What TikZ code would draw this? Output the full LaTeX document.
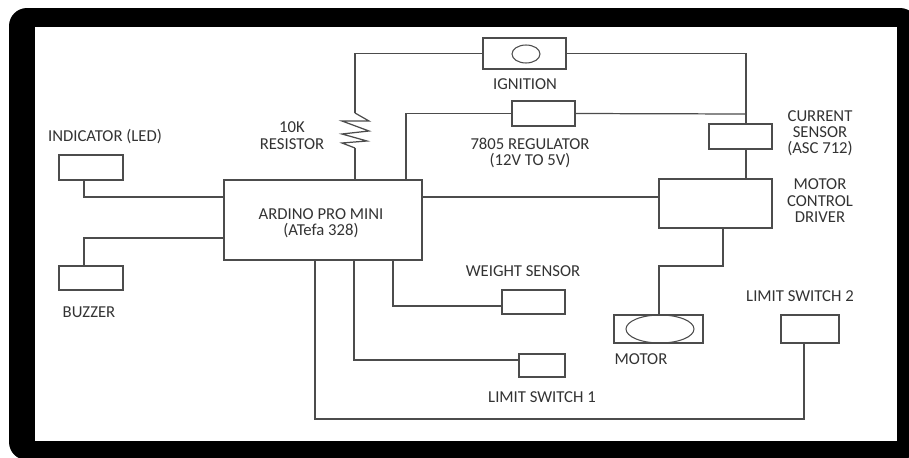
\documentclass[tikz,border=0pt]{standalone}
\usepackage{tikz}
\usepackage{xcolor}
\usepackage{fontspec}
\setmainfont{Carlito}
\usetikzlibrary{shapes.geometric}
\definecolor{wirecol}{gray}{0.3}
\definecolor{labelcol}{gray}{0.2}
\tikzset{
  block/.style={draw=wirecol, line width=0.7pt, minimum width=#1, inner sep=0pt},
  lbl/.style={text=labelcol, font=\fontsize{9.5pt}{11pt}\selectfont, inner sep=0pt},
  wire/.style={draw=wirecol, line width=0.7pt}
}
\begin{document}
\begin{tikzpicture}[x=0.02cm,y=-0.02cm]
    \useasboundingbox (0,0) rectangle (909,457);
    % Frame
    \fill[black, rounded corners=0.36cm] (9,8) rectangle (918,460);
    \fill[white] (35,27) rectangle (897,441);
    % Blocks
    \node[block=3.96cm, minimum height=1.60cm] (ardino) at (323,220) {};
    \node[block=1.66cm, minimum height=0.62cm] (ignition) at (524.5,53.5) {};
    \node[block=1.26cm, minimum height=0.50cm] (regulator) at (543.5,113.5) {};
    \node[block=1.26cm, minimum height=0.50cm] (current) at (740.5,136.5) {};
    \node[block=2.26cm, minimum height=0.98cm] (driver) at (715.5,203.5) {};
    \node[block=1.28cm, minimum height=0.50cm] (indicator) at (91,167.5) {};
    \node[block=1.28cm, minimum height=0.48cm] (buzzer) at (91,278) {};
    \node[block=1.26cm, minimum height=0.48cm] (weight) at (533.5,302) {};
    \node[block=0.92cm, minimum height=0.46cm] (switchone) at (542,365.5) {};
    \node[block=1.16cm, minimum height=0.56cm] (switchtwo) at (810,329) {};
    \node[block=1.78cm, minimum height=0.56cm] (motor) at (658.5,329) {};
    \node[draw=wirecol, line width=0.6pt, ellipse, minimum width=0.56cm, minimum height=0.36cm, inner sep=0pt] (key) at (526,54) {};
    \node[draw=wirecol, line width=0.6pt, ellipse, minimum width=1.36cm, minimum height=0.56cm, inner sep=0pt] (rotor) at (660,329) {};
    % Junction points
    \coordinate (restop) at (355,113);
    \coordinate (resbot) at (355,148);
    \coordinate (regdrop) at (406,114);
    \coordinate (powerline) at (746,114);
    \coordinate (ledwire) at (84,197);
    \coordinate (buzwire) at (84,238);
    \coordinate (limitwire) at (315,419);
    \coordinate (limitrise) at (804,419);
    \coordinate (onewire) at (354,360);
    \coordinate (weightwire) at (393,306);
    \coordinate (drivewire) at (723,266);
    \coordinate (motorwire) at (659,266);
    % Resistor
    \draw[wire] (restop) -- (369,121) -- (342,121) -- (369,131) -- (342,134) -- (367,141) -- (342,143) -- (resbot);
    % Connections
    \draw[wire] (ignition.west) -| (restop);
    \draw[wire] (resbot) -- (resbot |- ardino.north);
    \draw[wire] (ignition.east) -| (powerline);
    \draw[wire] (regulator.west) -| (regdrop |- ardino.north);
    \draw[wire] (regulator.east) -- (powerline);
    \draw[wire] (powerline) -- (powerline |- current.north);
    \draw[wire] (powerline |- current.south) -- (powerline |- driver.north);
    \draw[wire] (ledwire -| ardino.east) -- (ledwire -| driver.west);
    \draw[wire] (ledwire |- indicator.south) -- (ledwire) -- (ledwire -| ardino.west);
    \draw[wire] (buzwire |- buzzer.north) -- (buzwire) -- (buzwire -| ardino.west);
    \draw[wire] (limitwire |- ardino.south) -- (limitwire) -- (limitrise) -- (limitrise |- switchtwo.south);
    \draw[wire] (onewire |- ardino.south) -- (onewire) -- (onewire -| switchone.west);
    \draw[wire] (weightwire |- ardino.south) -- (weightwire) -- (weightwire -| weight.west);
    \draw[wire] (drivewire |- driver.south) -- (drivewire) -- (motorwire) -- (motorwire |- motor.north);
    % Labels
    \node[lbl] (ledlabel) at (105,136.5) {INDICATOR (LED)};
    \node[lbl] (tenk) at (292,127) {10K};
    \node[lbl] (reslabel) at (292,144) {RESISTOR};
    \node[lbl] (ardinolabel) at (321,214) {ARDINO PRO MINI};
    \node[lbl] (chiplabel) at (321,231) {(ATefa 328)};
    \node[lbl] (ignlabel) at (525,84) {IGNITION};
    \node[lbl] (reglabel) at (530,144) {7805 REGULATOR};
    \node[lbl] (voltlabel) at (530,161) {(12V TO 5V)};
    \node[lbl] (curlabel) at (820,116) {CURRENT};
    \node[lbl] (senlabel) at (820,132) {SENSOR};
    \node[lbl] (asclabel) at (820,149) {(ASC 712)};
    \node[lbl] (motlabel) at (820,184) {MOTOR};
    \node[lbl] (conlabel) at (820,201) {CONTROL};
    \node[lbl] (drvlabel) at (820,217) {DRIVER};
    \node[lbl] (buzlabel) at (89,312) {BUZZER};
    \node[lbl] (weightlabel) at (523,271) {WEIGHT SENSOR};
    \node[lbl] (twolabel) at (800,296) {LIMIT SWITCH 2};
    \node[lbl] (motorlabel) at (641,359) {MOTOR};
    \node[lbl] (onelabel) at (542,397) {LIMIT SWITCH 1};
\end{tikzpicture}
\end{document}
